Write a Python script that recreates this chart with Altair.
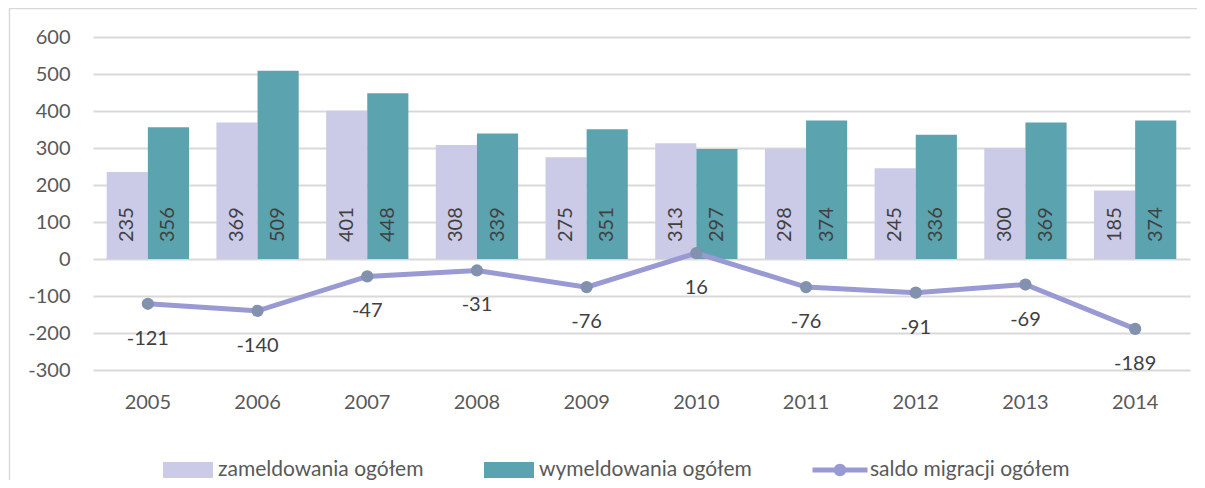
import altair as alt
import pandas as pd

years = ["2005", "2006", "2007", "2008", "2009", "2010", "2011", "2012", "2013", "2014"]
zameldowania = [235, 369, 401, 308, 275, 313, 298, 245, 300, 185]
wymeldowania = [356, 509, 448, 339, 351, 297, 374, 336, 369, 374]
saldo = [-121, -140, -47, -31, -76, 16, -76, -91, -69, -189]
y_ticks = [-300, -200, -100, 0, 100, 200, 300, 400, 500, 600]

S_ZAM = "zameldowania ogółem"
S_WYM = "wymeldowania ogółem"
S_SAL = "saldo migracji ogółem"
series_order = [S_ZAM, S_WYM, S_SAL]
colors = ["#cbcbe7", "#5ba3ae", "#9999d4"]

bars_df = pd.DataFrame(
    [{"year": y, "series": S_ZAM, "value": v} for y, v in zip(years, zameldowania)]
    + [{"year": y, "series": S_WYM, "value": v} for y, v in zip(years, wymeldowania)]
)
bars_df["label"] = bars_df["value"].astype(str)
line_df = pd.DataFrame({"year": years, "saldo": saldo})
line_df["label"] = line_df["saldo"].astype(str)
legend_df = pd.DataFrame({"series": series_order})

FONT = "Lato"
W, H = 1097, 333

RECT_PATH = "M-1,-0.32h2v0.64h-2z"
LINE_PATH = ("M-1.1,-0.1h0.88v0.2h-0.88z M0.22,-0.1h0.88v0.2h-0.88z "
             "M-0.25,0a0.25,0.25 0 1,1 0.5,0a0.25,0.25 0 1,1 -0.5,0z")

x_scale = alt.Scale(paddingInner=0.25, paddingOuter=0.125)
x_axis = alt.Axis(
    title=None, labelAngle=0, ticks=False, domain=False, grid=False,
    labelFontSize=20, labelColor="#595959", labelFont=FONT, labelPadding=22,
)
y_scale = alt.Scale(domain=[-300, 600], nice=False, zero=False)
y_axis = alt.Axis(
    title=None, values=y_ticks, ticks=False, domain=False,
    grid=True, gridColor="#d9d9d9", gridWidth=2, labelOverlap=False,
    labelExpr="toString(datum.value)",
    labelFontSize=20, labelColor="#595959", labelFont=FONT, labelPadding=23,
)


def X():
    return alt.X("year:N", sort=years, scale=x_scale, axis=x_axis)


def Y(field):
    return alt.Y(field, scale=y_scale, axis=y_axis, title=None)


xoff = alt.XOffset("series:N", sort=[S_ZAM, S_WYM],
                   scale=alt.Scale(paddingInner=0, paddingOuter=0))

legend = alt.Legend(
    title=None,
    orient="none",
    direction="horizontal",
    legendX=70,
    legendY=408,
    labelFontSize=21,
    labelColor="#595959",
    labelFont=FONT,
    labelLimit=400,
    labelOffset=5,
    columnPadding=60,
    symbolSize=2500,
    symbolStrokeWidth=0,
    symbolOpacity=1,
    padding=0,
)

color_scale = alt.Scale(domain=series_order, range=colors)

frame = alt.Chart(pd.DataFrame({"a": [0]})).mark_rect(
    fill=None, stroke="#d9d9d9", strokeWidth=1.5
).encode(
    x=alt.value(-83.5), x2=alt.value(W + 50), y=alt.value(-28.5), y2=alt.value(H + 300)
)

bars = alt.Chart(bars_df).mark_bar().encode(
    x=X(),
    xOffset=xoff,
    y=Y("value:Q"),
    color=alt.Color("series:N", scale=color_scale, legend=legend),
)

bar_labels = alt.Chart(bars_df).mark_text(
    angle=270, align="left", baseline="middle", dx=17,
    fontSize=20, font=FONT, color="#404040",
).encode(
    x=X(),
    xOffset=xoff,
    y=alt.Y(datum=0, scale=y_scale, axis=y_axis, title=None),
    text="label:N",
)

line = alt.Chart(line_df).mark_line(strokeWidth=5).encode(
    x=X(),
    y=Y("saldo:Q"),
    color=alt.datum(S_SAL),
)

points = alt.Chart(line_df).mark_point(
    filled=True, size=150, color="#8291ad", opacity=1
).encode(
    x=X(),
    y=Y("saldo:Q"),
)

line_labels = alt.Chart(line_df).mark_text(
    dy=35, fontSize=20, font=FONT, color="#404040"
).encode(
    x=X(),
    y=Y("saldo:Q"),
    text="label:N",
)

legend_layer = alt.Chart(legend_df).mark_point(
    filled=True, opacity=0, size=2500
).encode(
    color=alt.Color("series:N", scale=color_scale, legend=legend),
    shape=alt.Shape("series:N",
                    scale=alt.Scale(domain=series_order,
                                    range=[RECT_PATH, RECT_PATH, LINE_PATH]),
                    legend=legend),
)

chart = alt.layer(frame, bars, bar_labels, line, points, line_labels, legend_layer).properties(
    width=W, height=H,
    autosize=alt.AutoSizeParams(type="none"),
    padding={"left": 85, "top": 29, "right": 7, "bottom": 110},
).configure(background="white").configure_view(stroke=None).configure_axis(labelOverlap=False)

chart.save("out.html", embed_options={"renderer": "svg", "actions": False})
